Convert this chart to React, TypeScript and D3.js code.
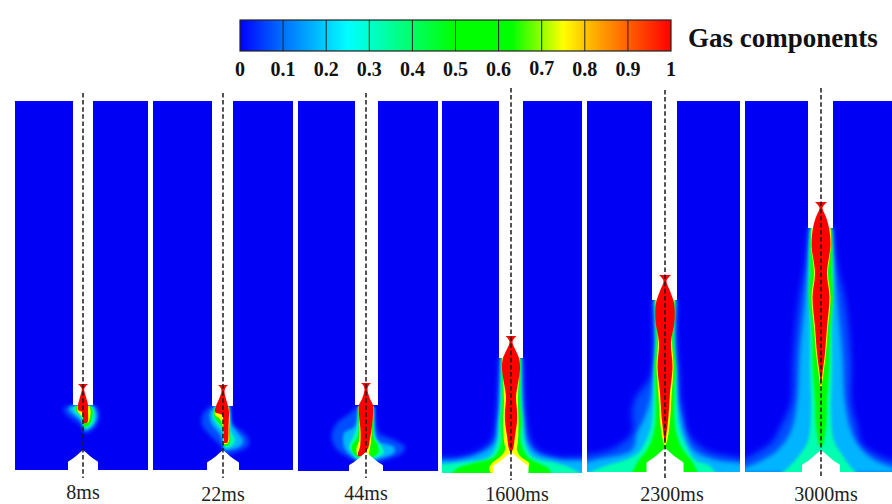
import React from "react";
import { area, curveCatmullRom, scaleLinear } from "d3";

type Row = [number, number, number];

const timeLabels = ["8ms", "22ms", "44ms", "1600ms", "2300ms", "3000ms"];
const colorTicks = [0, 0.1, 0.2, 0.3, 0.4, 0.5, 0.6, 0.7, 0.8, 0.9, 1];
const gradientStops = [0, 0.1, 0.25, 0.32, 0.42, 0.5, 0.63, 0.75, 0.82, 0.9, 1];
const gradientColors = ["#0000ff", "#0070ff", "#00ffff", "#00ffb8", "#00ff50", "#00ff00", "#00ff00", "#ffff00", "#ffb000", "#ff6000", "#ff0000"];

// geometry of the six frames, in figure units
const panelLeft = [15, 153, 298, 442, 587, 745];
const panelRight = [148, 293, 438, 582, 740, 892];
const panelBottom = [369, 369, 370, 372, 371, 371];
const axisCentre = [83, 223, 366, 511, 665, 821];
const channelLeft = [73, 212, 355, 499, 652, 808];
const channelRight = [93, 233, 378, 523, 677, 833];
const channelDepth = [304, 305, 304, 257, 199, 127];
const nozzleTip = [349, 349, 351, 351, 347, 349];
const nozzleHalf = [15, 16, 17, 17.5, 18.5, 19];
const axisTop = [-8, -8, -8, -13, -11, -13];
const axisBottom = [377, 377, 377, 379, 379, 377];

const nozzleFrac = [0, 0.2, 0.4, 0.6, 0.75, 0.8, 1, 1.8];
const nozzleWidth = [0, 0.24, 0.46, 0.72, 0.96, 1, 1, 1];

const labelX = [83, 223, 366, 517, 672, 826];
const labelY = [398, 400, 399, 400, 400, 400];

const levelColors = ["#0050ff", "#00b4ff", "#00ffb0", "#00ff00", "#ffff00", "#ff0000"];
const lateBlur = ["b3", "b2", "b15", "b1", "b06", "b05"];
const earlyBlur = ["b2", "b15", "b1", "b06", "b05", "b05"];

const plume8: Row[][] = [
  [[305, -17, 13], [309, -19, 15], [315, -15, 16], [321, -6, 15], [327, 0, 11], [332, 1, 4]],
  [[305, -13, 11], [309, -14, 13], [314, -9, 14], [320, -2, 13], [326, 0, 9], [330, 1, 3]],
  [[305, -9, 9], [310, -9, 11], [316, -3, 11.5], [322, 0, 10], [327, 1, 5]],
  [[305, -7, 8], [310, -7, 9.5], [313, -2, 9.5], [319, 0, 8.5], [324, 1, 6], [326, 1, 2]],
  [[305, -6, 6.5], [310, -5.5, 7.5], [317, 0, 7], [322, 1, 5]],
  [[283, -5, 5], [285, -3, 3], [288, -1.2, 1.2], [296, -3, 3], [304, -5, 5], [309, -5, 5], [311, -1, 5], [320, 0.5, 5], [322, 1, 4]],
];
const plume22: Row[][] = [
  [[304, -8, 7], [308, -16, 7], [316, -21, 8], [324, -21, 10], [332, -15, 21], [340, -7, 26], [346, -1, 24], [351, 0, 13], [354, 1, 3]],
  [[305, -8, 6.5], [312, -13, 7], [322, -12, 8], [332, -4, 15], [340, 0, 20], [346, 1, 16], [349, 1, 5]],
  [[305, -8, 6], [316, -10, 7], [322, -7, 7], [330, -0.5, 7.5], [338, 0, 12], [344, 1, 10], [347, 1, 4]],
  [[306, -8, 5.5], [316, -8.5, 7], [321, -5, 7], [326, -1, 6.5], [336, 0, 7], [342, 0.5, 7], [345, 1, 4]],
  [[306, -7.5, 5.5], [314, -8, 6.5], [318, -3, 6.5], [330, 0.5, 6], [340, 0.5, 6], [343, 1, 4]],
  [[284, -5, 5], [286, -3, 3], [290, -1.5, 1.5], [298, -4, 3], [305, -7, 5], [311, -8, 6], [314, -1, 6], [325, 0.5, 5.5], [340, 1, 5], [342, 1, 4]],
];
const plume44: Row[][] = [
  [[306, -9, 8], [314, -18, 9], [322, -29, 10], [332, -34, 13], [339, -34, 28], [346, -31, 39], [352, -25, 36], [357, -16, 25], [362, -6, 6]],
  [[306, -8, 8], [325, -11, 8], [332, -22, 9], [340, -23, 12], [346, -22, 28], [352, -18, 28], [357, -12, 16], [361, -6, 5]],
  [[306, -8, 8], [325, -9, 8], [336, -13, 9], [346, -17, 16], [352, -14, 18], [357, -10, 8]],
  [[306, -8, 8], [325, -7.5, 7.5], [336, -8.5, 7.5], [345, -14, 12], [352, -13, 12], [356, -9, 7]],
  [[305, -7.5, 7.5], [325, -6.5, 6], [340, -7, 5], [347, -9.5, 4], [354, -9, 3]],
  [[282, -5, 5], [284, -3, 3], [288, -1.5, 1.5], [298, -4, 4], [304, -7, 7], [314, -7, 7], [329, -5.5, 5.5], [340, -5.5, 3.5], [346, -6, 2.5], [352, -8, -1], [355, -8, -4]],
];
const plume1600: Row[][] = [
  [[257, -11, 11], [300, -13, 13], [320, -15, 15], [339, -19, 19], [349, -30, 26], [356, -50, 45], [359, -90, 90], [376, -90, 90]],
  [[257, -10, 10.5], [300, -11.5, 11.5], [320, -13, 13], [342, -17, 17], [352, -30, 25], [359, -55, 50], [362, -90, 85], [376, -90, 90]],
  [[257, -10, 10], [300, -10.5, 10.5], [320, -12, 12], [342, -14, 14], [356, -22, 22], [362, -55, 45], [367, -85, 60], [376, -90, 75]],
  [[257, -9.5, 9.5], [300, -9, 9], [320, -10.5, 10.5], [342, -10, 10], [356, -17, 17], [362, -37, 27], [367, -53, 37], [376, -63, 42]],
  [[257, -9, 9], [300, -7, 7], [320, -8, 7.5], [340, -7, 7], [349, -6, 6], [356, -11, 10], [362, -19, 18], [368, -22, 17], [372, -20, 17]],
  [[235, -5.5, 5.5], [237, -3.5, 3.5], [241, -1.5, 1.5], [250, -5, 5], [257, -8, 8], [268, -9, 9], [285, -6.5, 6.5], [296, -5, 5], [310, -6, 6], [320, -6, 6], [335, -4, 4], [348, -2, 2], [351, -0.5, 0.5]],
];
const plume2300: Row[][] = [
  [[199, -11, 11], [240, -11, 11], [275, -14, 14], [296, -29, 15], [310, -33, 18], [332, -33, 23], [349, -55, 40], [357, -90, 75], [360, -90, 90], [376, -90, 90]],
  [[199, -11, 11], [240, -10, 10], [275, -12, 12], [300, -15, 13], [320, -22, 17], [332, -28, 20], [349, -33, 28], [359, -70, 50], [365, -90, 85], [376, -90, 90]],
  [[199, -10.5, 10.5], [240, -9, 9], [275, -11, 11], [305, -12, 12], [325, -14, 14], [340, -19, 19], [352, -27, 25], [359, -40, 30], [365, -60, 45], [371, -75, 50], [376, -90, 60]],
  [[199, -10, 10], [240, -8.5, 8.5], [265, -10.5, 10.5], [295, -9.5, 9.5], [320, -9.5, 9.5], [335, -12, 12], [349, -18, 18], [359, -26, 26], [376, -35, 35]],
  [[199, -9.5, 9.5], [240, -7, 7], [265, -8.5, 8.5], [295, -6.5, 6.5], [320, -5, 5], [338, -2.5, 2.5], [345, -0.5, 0.5]],
  [[174, -6, 6], [176, -4, 4], [180, -1.5, 1.5], [190, -5, 5], [202, -9, 9], [220, -9.5, 9.5], [242, -6, 6], [266, -7.5, 7.5], [292, -5, 5], [315, -3.5, 3.5], [335, -1.2, 1.2], [342, -0.3, 0.3]],
];
const plume3000: Row[][] = [
  [[127, -12, 12], [160, -15, 15], [200, -22, 24], [260, -28, 30], [302, -30, 30], [325, -40, 36], [342, -50, 40], [356, -72, 60], [366, -90, 90], [376, -90, 90]],
  [[127, -11, 11], [160, -13, 13], [200, -16, 16], [250, -21, 21], [302, -24, 24], [330, -30, 30], [348, -42, 40], [360, -60, 55], [372, -90, 90]],
  [[127, -10.5, 10.5], [172, -12, 12], [226, -11, 11], [270, -11, 11], [310, -10, 10], [340, -13, 13], [352, -20, 20], [364, -30, 28], [376, -45, 40]],
  [[127, -10, 10], [145, -11, 11], [172, -11, 11], [196, -12, 12], [226, -9.5, 9.5], [270, -8, 8], [300, -6, 6], [325, -5, 5], [345, -2, 2]],
  [[127, -9.5, 9.5], [144, -10, 10], [172, -7, 7], [196, -9.5, 9.5], [226, -7, 7], [252, -5, 5], [272, -2.5, 2.5], [288, -0.4, 0.4]],
  [[101, -6, 6], [103, -4, 4], [107, -1.5, 1.5], [116, -5, 5], [127, -8, 8], [144, -9.5, 9.5], [172, -6, 6], [196, -8.5, 8.5], [226, -6, 6], [252, -4, 4], [272, -1.5, 1.5], [284, -0.3, 0.3]],
];
const plumes = [plume8, plume22, plume44, plume1600, plume2300, plume3000];

const x = scaleLinear().domain([0, 892]).range([0, 892]);
const y = scaleLinear().domain([0, 370]).range([101, 471]);
const barX = scaleLinear().domain([0, 1]).range([240, 671]);

const serif = "'Liberation Serif', 'Times New Roman', serif";

export default function App() {
  return (
    <svg
      width={892}
      height={504}
      style={{ position: "absolute", left: 0, top: 0, background: "#fff" }}
    >
      <defs>
        <linearGradient id="bar" x1="0" x2="1" y1="0" y2="0">
          {gradientStops.map((s, i) => (
            <stop key={i} offset={s} stopColor={gradientColors[i]} />
          ))}
        </linearGradient>
        {[["b3", 3], ["b2", 2.2], ["b15", 1.5], ["b1", 1], ["b06", 0.7], ["b05", 0.5], ["soft", 0.45], ["text", 0.3]].map(([id, sd]) => (
          <filter key={id} id={id as string} filterUnits="userSpaceOnUse" x={-20} y={-20} width={940} height={560}>
            <feGaussianBlur stdDeviation={sd as number} />
          </filter>
        ))}
        {panelLeft.map((l, i) => (
          <clipPath key={i} id={`panel${i}`}>
            <rect x={x(l)} y={y(0)} width={x(panelRight[i]) - x(l)} height={y(panelBottom[i]) - y(0)} />
          </clipPath>
        ))}
      </defs>

      {axisCentre.map((c, i) => {
        const levelPath = area<Row>()
          .y((d) => y(d[0]))
          .x0((d) => x(c + d[1]))
          .x1((d) => x(c + d[2]))
          .curve(curveCatmullRom.alpha(0.5));
        const half = nozzleHalf[i];
        const nozzlePath = area<number>()
          .y((f) => y(nozzleTip[i] + f * half))
          .x0((f, k) => x(c - nozzleWidth[k] * half))
          .x1((f, k) => x(c + nozzleWidth[k] * half));
        const blur = i < 3 ? earlyBlur : lateBlur;
        return (
          <g key={i}>
            <g clipPath={`url(#panel${i})`}>
              <g filter="url(#soft)">
                <rect
                  x={x(panelLeft[i])}
                  y={y(0)}
                  width={x(panelRight[i]) - x(panelLeft[i])}
                  height={y(panelBottom[i]) - y(0)}
                  fill="#0000f5"
                />
              </g>
              {plumes[i].slice(0, 4).map((rows, k) => (
                <path key={k} d={levelPath(rows) ?? ""} fill={levelColors[k]} filter={`url(#${blur[k]})`} />
              ))}
            </g>
            <rect
              x={x(channelLeft[i])}
              y={y(-3)}
              width={x(channelRight[i]) - x(channelLeft[i])}
              height={y(channelDepth[i]) - y(-3)}
              fill="#fff"
              filter="url(#soft)"
            />
            <g clipPath={`url(#panel${i})`}>
              {plumes[i].slice(4).map((rows, k) => (
                <path key={k} d={levelPath(rows) ?? ""} fill={levelColors[k + 4]} filter={`url(#${blur[k + 4]})`} />
              ))}
            </g>
            <path d={nozzlePath(nozzleFrac) ?? ""} fill="#fff" filter="url(#soft)" />
            <line
              x1={x(c)}
              x2={x(c)}
              y1={y(axisTop[i])}
              y2={y(axisBottom[i])}
              stroke="#1a1a1a"
              strokeWidth={1.5}
              strokeDasharray="4.5 2.6"
              filter="url(#text)"
            />
            <text
              x={x(labelX[i])}
              y={y(labelY[i])}
              textAnchor="middle"
              fontFamily={serif}
              fontSize={20}
              fill="#222"
            >
              {timeLabels[i]}
            </text>
          </g>
        );
      })}

      <rect x={barX(0)} y={20} width={barX(1) - barX(0)} height={31} fill="url(#bar)" stroke="#222" strokeWidth={1.2} />
      {colorTicks.slice(1, -1).map((t) => (
        <line key={t} x1={barX(t)} x2={barX(t)} y1={20} y2={51} stroke="#222" strokeWidth={1} />
      ))}
      {colorTicks.map((t) => (
        <text
          key={t}
          x={barX(t)}
          y={t === 0.7 ? 75 : 76}
          textAnchor="middle"
          fontFamily={serif}
          fontWeight="bold"
          fontSize={20}
          fill="#111"
        >
          {t}
        </text>
      ))}
      <text x={688} y={47} fontFamily={serif} fontWeight="bold" fontSize={27} fill="#111">
        Gas components
      </text>
    </svg>
  );
}
